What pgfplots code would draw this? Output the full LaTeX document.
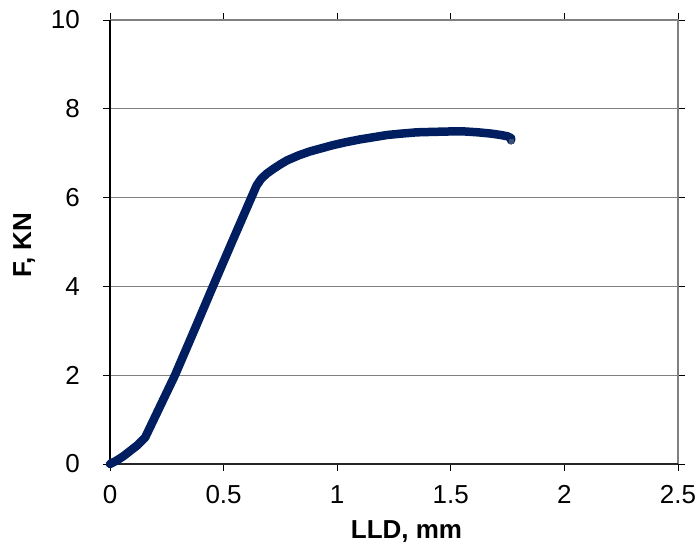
\documentclass[border=0pt]{standalone}
\usepackage{fontspec}
\setmainfont{Liberation Sans}
\usepackage{pgfplots}
\pgfplotsset{compat=1.18}
\definecolor{navyline}{RGB}{0,30,96}
\definecolor{endmark}{RGB}{60,80,115}
\definecolor{gridgray}{RGB}{128,128,128}
\begin{document}
\fontsize{26bp}{31bp}\selectfont
\begin{tikzpicture}
\useasboundingbox (-110bp,-94bp) rectangle (588bp,464bp);
\begin{axis}[
  at={(0,0)}, anchor=south west,
  scale only axis,
  width=568bp, height=444bp,
  xmin=0, xmax=2.5, ymin=0, ymax=10,
  xtick={0,0.5,1,1.5,2,2.5},
  ytick={0,2,4,6,8,10},
  xticklabels={0,0.5,1,1.5,2,2.5},
  yticklabels={0,2,4,6,8,10},
  tick align=outside,
  major tick length=7bp,
  tick style={black, line width=0.8bp},
  ymajorgrids,
  grid style={gridgray, line width=1.2bp},
  axis line style={draw=none},
  xticklabel style={anchor=north, inner sep=0pt, yshift=-14bp, font=\fontsize{26bp}{31bp}\selectfont},
  yticklabel style={anchor=east, inner sep=0pt, xshift=-23bp, font=\fontsize{26bp}{31bp}\selectfont},
  xlabel={\bfseries LLD, mm},
  ylabel={\bfseries F, KN},
  xlabel style={at={(axis description cs:0.522,-0.1667)}, anchor=base, inner sep=0pt, font=\fontsize{26bp}{31bp}\selectfont},
  ylabel style={at={(axis description cs:-0.151,0.493)}, anchor=center, rotate=0, inner sep=0pt, font=\fontsize{26bp}{31bp}\selectfont},
  clip=false,
]
% plot-area border (gray) and axes (black)
\draw[gridgray, line width=2bp] (axis cs:0,10) -- (axis cs:2.5,10) -- (axis cs:2.5,0);
\draw[black!85, line width=1.6bp] (axis cs:0,0) -- (axis cs:2.5,0);
\draw[black, line width=1.6bp] (axis cs:0,0) -- (axis cs:0,10);
\addplot[navyline, line width=8.5bp, line join=round, line cap=round] coordinates {
(0,0) (0.03,0.08) (0.06,0.18) (0.09,0.3) (0.12,0.42) (0.155,0.6)
(0.286,2.0) (0.37,3.0) (0.453,4.0) (0.537,5.0) (0.622,6.0) (0.645,6.27)
(0.665,6.42) (0.69,6.54) (0.72,6.65) (0.75,6.75) (0.78,6.84) (0.83,6.95)
(0.88,7.04) (0.93,7.11) (0.98,7.18) (1.04,7.25) (1.1,7.31) (1.16,7.36)
(1.22,7.41) (1.28,7.44) (1.35,7.47) (1.42,7.48) (1.5,7.49) (1.56,7.49)
(1.62,7.47) (1.68,7.44) (1.72,7.41) (1.75,7.38) (1.765,7.34) (1.765,7.29)
};
\addplot[only marks, mark=square*, mark size=2.2bp, mark options={fill=endmark, draw=endmark}] coordinates {(1.765,7.27)};
\end{axis}
\end{tikzpicture}
\end{document}
